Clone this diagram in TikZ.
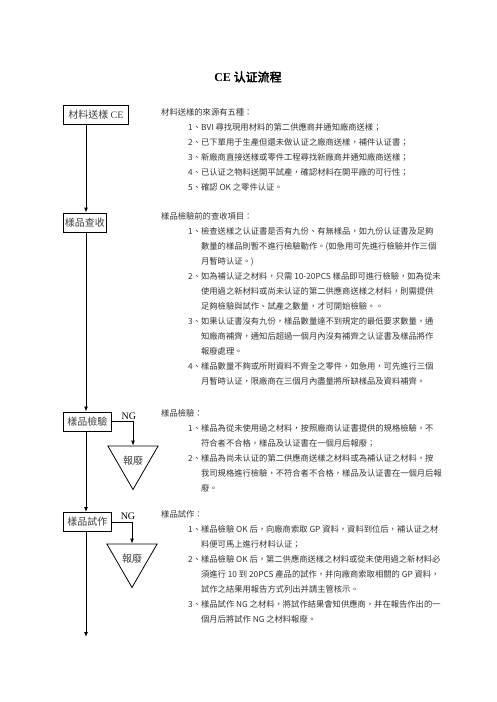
\documentclass[tikz,border=0pt]{standalone}
\usepackage{fontspec}
\setmainfont{Liberation Serif}
\newfontfamily\cjk[AutoFakeBold=2.5]{Noto Sans CJK TC}
\usetikzlibrary{arrows.meta, positioning, shapes.geometric}
\newcommand{\itm}{\hspace*{27pt}}
\newcommand{\cont}{\hspace*{27pt}\phantom{1、}}

\begin{document}
\begin{tikzpicture}[
    x=1pt, y=1pt,
    stage/.style={rectangle, draw, line width=0.9pt, inner sep=1.5pt, anchor=west,
                  minimum height=19pt, text=black!75, font=\cjk\fontsize{10}{10}\selectfont},
    scrap/.style={regular polygon, regular polygon sides=3, shape border rotate=180,
                  draw, line width=0.8pt, minimum size=58pt, inner sep=0pt,
                  text=black!75, font=\cjk\fontsize{10}{10}\selectfont},
    note/.style={anchor=north west, inner sep=0pt, align=left, text=black!80,
                 font=\cjk\fontsize{8.3}{15}\selectfont},
    arr/.style={-{Latex[length=5pt, width=4pt]}, line width=0.9pt},
    ng/.style={inner sep=0pt, font=\fontsize{10}{10}\selectfont},
]
    \useasboundingbox (0,0) rectangle (496,-702);

    \node[font=\cjk\bfseries\fontsize{12}{12}\selectfont] (title) at (248,-77) {{\rmfamily CE} 认证流程};

    % flow boxes
    \node[stage, minimum width=65pt] (mat) at (63,-114.5) {材料送樣 {\rmfamily CE}};
    \node[stage, minimum width=41pt] (recv) at (63,-222.5) {樣品查收};
    \node[stage, minimum width=48pt] (insp) at (63,-421.5) {樣品檢驗};
    \node[stage, minimum width=48pt] (trial) at (63,-522) {樣品試作};
    \node[scrap] (scrapA) at (133,-460.5) {報廢};
    \node[scrap] (scrapB) at (132,-558.5) {報廢};
    \coordinate (spine) at (86,0);
    \coordinate (out) at (86,-637);

    \draw[arr] (mat.south -| spine) -- (recv.north -| spine);
    \draw[arr] (recv.south -| spine) -- (insp.north -| spine);
    \draw[arr] (insp.south -| spine) -- (trial.north -| spine);
    \draw[arr] (trial.south -| spine) -- (out);
    \draw[arr] (insp.east) -| (scrapA.north) node[pos=0.4, above=1.5pt, ng] {NG};
    \draw[arr] (trial.east) -| (scrapB.north) node[pos=0.4, above=1.5pt, ng] {NG};

    % notes
    \node[note] (srcnote) at (161,-108) {材料送樣的來源有五種：\\
        \itm 1、BVI 尋找現用材料的第二供應商并通知廠商送樣；\\
        \itm 2、已下單用于生產但還未做认证之廠商送樣，補件认证書；\\
        \itm 3、新廠商直接送樣或零件工程尋找新廠商并通知廠商送樣；\\
        \itm 4、已认证之物料送開平試產，確認材料在開平廠的可行性；\\
        \itm 5、確認 OK 之零件认证。};
    \node[note] (recvnote) at (161,-212) {樣品檢驗前的查收項目：\\
        \itm 1、檢查送樣之认证書是否有九份、有無樣品，如九份认证書及足夠\\
        \cont 數量的樣品則暫不進行檢驗動作。(如急用可先進行檢驗并作三個\\
        \cont 月暫時认证。)\\
        \itm 2、如為補认证之材料，只需 10-20PCS 樣品即可進行檢驗，如為從未\\
        \cont 使用過之新材料或尚未认证的第二供應商送樣之材料，則需提供\\
        \cont 足夠檢驗與試作、試產之數量，才可開始檢驗。。\\
        \itm 3、如果认证書沒有九份，樣品數量達不到規定的最低要求數量，通\\
        \cont 知廠商補齊，通知后超過一個月內沒有補齊之认证書及樣品將作\\
        \cont 報廢處理。\\
        \itm 4、樣品數量不夠或所附資料不齊全之零件，如急用，可先進行三個\\
        \cont 月暫時认证，限廠商在三個月內盡量將所缺樣品及資料補齊。};
    \node[note] (inspnote) at (161,-409) {樣品檢驗：\\
        \itm 1、樣品為從未使用過之材料，按照廠商认证書提供的規格檢驗，不\\
        \cont 符合者不合格，樣品及认证書在一個月后報廢；\\
        \itm 2、樣品為尚未认证的第二供應商送樣之材料或為補认证之材料，按\\
        \cont 我司規格進行檢驗，不符合者不合格，樣品及认证書在一個月后報\\
        \cont 廢。};
    \node[note] (trialnote) at (161,-510) {樣品試作：\\
        \itm 1、樣品檢驗 OK 后，向廠商索取 GP 資料，資料到位后，補认证之材\\
        \cont 料便可馬上進行材料认证；\\
        \itm 2、樣品檢驗 OK 后，第二供應商送樣之材料或從未使用過之新材料必\\
        \cont 須進行 10 到 20PCS 產品的試作，并向廠商索取相關的 GP 資料，\\
        \cont 試作之結果用報告方式列出并請主管核示。\\
        \itm 3、樣品試作 NG 之材料，將試作結果會知供應商，并在報告作出的一\\
        \cont 個月后將試作 NG 之材料報廢。};
\end{tikzpicture}
\end{document}
